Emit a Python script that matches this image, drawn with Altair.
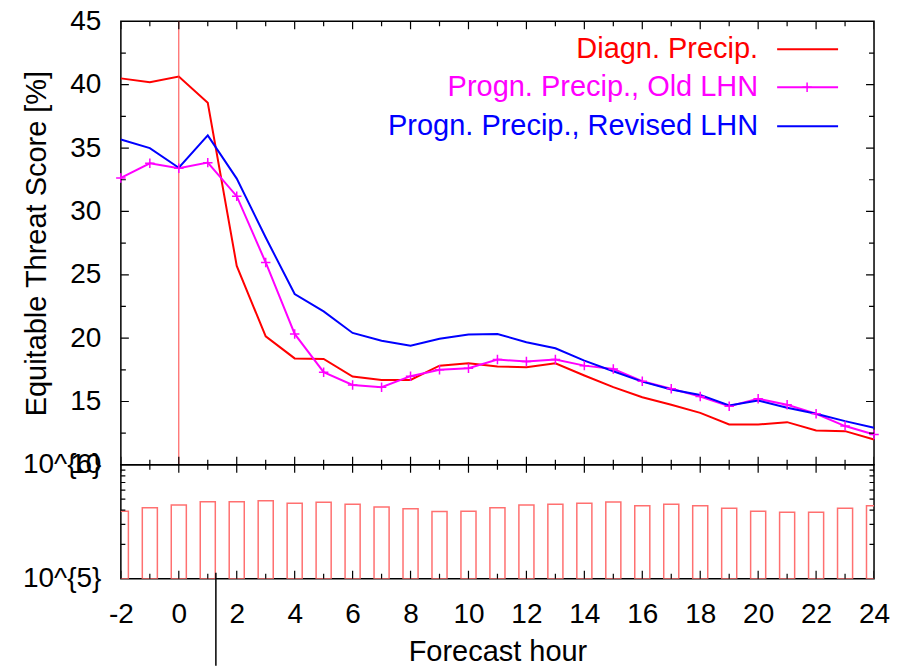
import altair as alt
import pandas as pd

# ---------------- data ----------------
hours = list(range(-2, 25))
diagn = [40.5, 40.2, 40.65, 38.57, 25.7, 20.14, 18.4, 18.36, 16.97, 16.7, 16.7,
         17.83, 18.02, 17.76, 17.7, 18.02, 17.05, 16.13, 15.34, 14.74, 14.1,
         13.19, 13.19, 13.37, 12.72, 12.66, 12.0]
old_lhn = [32.64, 33.8, 33.4, 33.85, 31.2, 25.97, 20.33, 17.31, 16.31, 16.13, 17.0,
           17.5, 17.62, 18.31, 18.15, 18.31, 17.83, 17.57, 16.6, 16.0, 15.39,
           14.63, 15.21, 14.74, 14.03, 13.06, 12.4]
revised = [35.68, 35.0, 33.45, 36.0, 32.59, 27.94, 23.48, 22.11, 20.41, 19.8, 19.4,
           19.95, 20.28, 20.33, 19.67, 19.2, 18.23, 17.39, 16.57, 15.94, 15.52,
           14.69, 15.08, 14.5, 14.03, 13.45, 12.93]
counts = [392000, 420000, 444000, 474000, 474000, 484000, 459000, 469000, 450000,
          426000, 411000, 390000, 392000, 420000, 444000, 450000, 459000, 471000,
          437000, 450000, 437000, 415000, 392000, 383000, 383000, 415000, 437000]

series_names = ["Diagn. Precip.", "Progn. Precip., Old LHN", "Progn. Precip., Revised LHN"]
series_colors = ["#ff0000", "#ff00ff", "#0000ff"]

x_major_ticks = list(range(-2, 25, 2))
x_minor_ticks = list(range(-1, 24, 2))
top_y_major = [10, 15, 20, 25, 30, 35, 40, 45]
top_y_minor = [12.5, 17.5, 22.5, 27.5, 32.5, 37.5, 42.5]
bot_y_labels = [100000, 1000000]
bot_y_minor = [200000, 300000, 400000, 500000, 600000, 700000, 800000, 900000]
zero_line = [0]
stray_line = [1.28]

FONT = "Liberation Sans"
FS = 28
TFS = 29
LFS = 29
PLUS = "M-1,0L1,0M0,-1L0,1"

# ---------------- frames ----------------
rows = []
for name, vals in zip(series_names, [diagn, old_lhn, revised]):
    for h, v in zip(hours, vals):
        rows.append({"h": h, "v": v, "series": name})
lines_df = pd.DataFrame(rows)
old_df = pd.DataFrame({"h": hours, "v": old_lhn})
bars_df = pd.DataFrame({"h": hours, "n": counts})

xscale = alt.Scale(domain=[-2, 24], nice=False, zero=False)
ytop = alt.Scale(domain=[10, 45], nice=False, zero=False)
ybot = alt.Scale(type="log", domain=[100000, 1000000], nice=False)
color_scale = alt.Scale(domain=series_names, range=series_colors)

top_y_axis = alt.Axis(
    values=top_y_major, tickSize=0, domain=False, grid=False,
    labelFontSize=FS, labelPadding=20, labelColor="black",
    title="Equitable Threat Score [%]", titleFontSize=TFS,
    titleFontWeight="normal", titlePadding=18, titleColor="black")
bot_x_axis = alt.Axis(
    values=x_major_ticks, tickSize=0, domain=False, grid=False,
    labelFontSize=FS, labelPadding=22, labelFlush=False, labelColor="black",
    labelExpr="'' + datum.value",
    title="Forecast hour", titleFontSize=TFS, titleFontWeight="normal",
    titleBaseline="bottom", titleY=88, titleColor="black")
bot_y_axis = alt.Axis(
    values=bot_y_labels, tickSize=0, domain=False, grid=False,
    labelFontSize=FS, labelPadding=20, labelColor="black",
    labelExpr="datum.value >= 1000000 ? '10^{6}' : '10^{5}'", title=None)


def X(field, axis):
    return alt.X(f"{field}:Q", scale=xscale, axis=axis)


def xticks_df(ticks, edges):
    return pd.DataFrame([{"h": t, "e": e} for t in ticks for e in edges])


def yticks_df(ticks, edges):
    return pd.DataFrame([{"v": t, "e": e} for t in ticks for e in edges])


def tick_layer(df, xf, yf, ys, xaxis, yaxis, orient, size):
    return alt.Chart(df).mark_tick(
        orient=orient, size=size, thickness=1.2, color="black", clip=True, opacity=1
    ).encode(
        x=alt.X(f"{xf}:Q", scale=xscale, axis=xaxis),
        y=alt.Y(f"{yf}:Q", scale=ys, axis=yaxis),
    )

# ---------------- top panel ----------------
lines = alt.Chart(lines_df).mark_line(strokeWidth=2, clip=True).encode(
    x=X("h", None),
    y=alt.Y("v:Q", scale=ytop, axis=top_y_axis),
    color=alt.Color("series:N", scale=color_scale, legend=None),
)
old_pts = alt.Chart(old_df).mark_point(
    shape=PLUS, size=90, filled=False, strokeWidth=1.5, color="#ff00ff", opacity=1
).encode(
    x=X("h", None),
    y=alt.Y("v:Q", scale=ytop, axis=top_y_axis),
)
vline = alt.Chart(pd.DataFrame({"h": zero_line})).mark_rule(
    color="#ff4040", strokeWidth=1
).encode(x=X("h", None))

top_ticks = [
    tick_layer(xticks_df(x_major_ticks, [10, 45]), "h", "e", ytop, None, top_y_axis, "vertical", 16),
    tick_layer(xticks_df(x_minor_ticks, [10, 45]), "h", "e", ytop, None, top_y_axis, "vertical", 10),
    tick_layer(yticks_df(top_y_major, [-2, 24]), "e", "v", ytop, None, top_y_axis, "horizontal", 16),
    tick_layer(yticks_df(top_y_minor, [-2, 24]), "e", "v", ytop, None, top_y_axis, "horizontal", 10),
]

legend_layers = []
leg_y = [28, 66, 105]
for name, col, ly in zip(series_names, series_colors, leg_y):
    ldf = pd.DataFrame({"label": [name]})
    legend_layers.append(alt.Chart(ldf).mark_text(
        align="right", baseline="middle", fontSize=LFS, font=FONT, color=col
    ).encode(text="label:N", x=alt.value(638), y=alt.value(ly)))
    legend_layers.append(alt.Chart(ldf).mark_rule(color=col, strokeWidth=2).encode(
        x=alt.value(657), x2=alt.value(718), y=alt.value(ly)))
legend_layers.append(alt.Chart(pd.DataFrame({"label": [series_names[1]]})).mark_point(
    shape=PLUS, size=90, filled=False, strokeWidth=1.5, color="#ff00ff", opacity=1
).encode(x=alt.value(687), y=alt.value(leg_y[1])))

top = alt.layer(lines, vline, old_pts, *top_ticks, *legend_layers).properties(
    width=754, height=444)

# ---------------- bottom panel ----------------
bars = alt.Chart(bars_df).transform_calculate(
    x0="datum.h - 0.26", x1="datum.h + 0.26", base="100000"
).mark_rect(fillOpacity=0, stroke="#ff7070", strokeWidth=1.5, clip=True).encode(
    x=X("x0", bot_x_axis),
    x2="x1:Q",
    y=alt.Y("n:Q", scale=ybot, axis=bot_y_axis),
    y2="base:Q",
)
bot_ticks = [
    tick_layer(xticks_df(x_major_ticks, [100000, 1000000]), "h", "e", ybot, bot_x_axis, bot_y_axis, "vertical", 16),
    tick_layer(xticks_df(x_minor_ticks, [100000, 1000000]), "h", "e", ybot, bot_x_axis, bot_y_axis, "vertical", 10),
    tick_layer(yticks_df(bot_y_minor, [-2, 24]), "e", "v", ybot, bot_x_axis, bot_y_axis, "horizontal", 9),
]
stray = alt.Chart(pd.DataFrame({"h": stray_line})).mark_rule(
    color="black", strokeWidth=1.5, clip=False
).encode(x=X("h", bot_x_axis), y=alt.value(108), y2=alt.value(201))

bottom = alt.layer(bars, *bot_ticks, stray).properties(width=754, height=114)

chart = alt.vconcat(top, bottom, spacing=0, bounds="flush").properties(
    padding={"left": 21, "top": 6, "right": 10, "bottom": 0}
).configure(font=FONT).configure_view(
    stroke="black", strokeWidth=1.5
).configure_axis(labelFont=FONT, titleFont=FONT)

chart.save("out.html", embed_options={"renderer": "svg", "actions": False})
